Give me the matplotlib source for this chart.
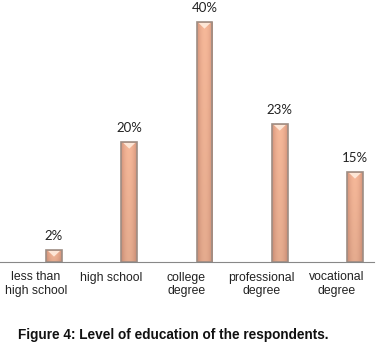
import matplotlib
matplotlib.use("Agg")
import matplotlib.pyplot as plt
import numpy as np
from matplotlib.transforms import blended_transform_factory
from matplotlib.colors import to_rgb

categories = ["less than\nhigh school", "high school", "college\ndegree", "professional\ndegree", "vocational\ndegree"]
values = [2, 20, 40, 23, 15]
labels = ["2%", "20%", "40%", "23%", "15%"]

W, H = 382, 345
fig = plt.figure(figsize=(W/100, H/100), dpi=100)
ax = fig.add_axes([0, 1-262/H, 374/W, 262/H])
x = list(range(len(values)))
bw = 0.21
ymax = 262/6
bars = ax.bar(x, values, width=bw, color="none", edgecolor="#9E8D84", linewidth=1.2, zorder=3)

# gradient fill clipped to each bar
edge_c = np.array(to_rgb("#D4937A"))
mid_c = np.array(to_rgb("#F6B899"))
nx = 40
prof = 1 - np.abs(np.linspace(-1, 1, nx)) ** 2
for b, v in zip(bars, values):
    ny = 60
    t = np.linspace(0, 1, ny)[:, None]  # 0 bottom .. 1 top
    base = edge_c[None, None, :] + (mid_c - edge_c)[None, None, :] * prof[None, :, None]
    shade = 0.93 + 0.07 * t[..., None]
    img = np.clip(base * shade, 0, 1)
    x0 = b.get_x()
    im = ax.imshow(img, extent=[x0, x0 + bw, 0, v], origin="lower", aspect="auto",
                   interpolation="bilinear", zorder=2)
    im.set_clip_path(b)
    h = min(0.6, v * 0.3)
    ax.fill([x0 + 0.025, x0 + bw - 0.025, x0 + bw / 2], [v - 0.15, v - 0.15, v - 0.15 - h * 1.6],
            color="#FDE6D6", linewidth=0, zorder=2.5)

for xi, v, t in zip(x, values, labels):
    ax.text(xi, v + 1.3, t, ha="center", va="bottom", fontsize=9.5, family="Lato", color="#222222")
ax.set_xlim(-54/75.25, 4 + 19/75.25)
ax.set_ylim(0, ymax)
for s in ["top", "right", "left"]:
    ax.spines[s].set_visible(False)
ax.spines["bottom"].set_color("#888888")
ax.spines["bottom"].set_zorder(4)
ax.set_yticks([])
ax.set_xticks([])
tr = blended_transform_factory(ax.transData, fig.transFigure)
for xi, c in zip(x, categories):
    ax.text(xi - 18/75.25, 1-271.5/H, c, transform=tr, ha="center", va="top", fontsize=8.8,
            family="Liberation Sans", color="#222222", linespacing=1.15)
fig.text(18/W, 1-335/H, "Figure 4: Level of education of the respondents.", fontsize=9.8,
         fontweight="bold", family="Liberation Sans", ha="left", va="center", color="#111111")
fig.savefig("out.png", dpi=100)
